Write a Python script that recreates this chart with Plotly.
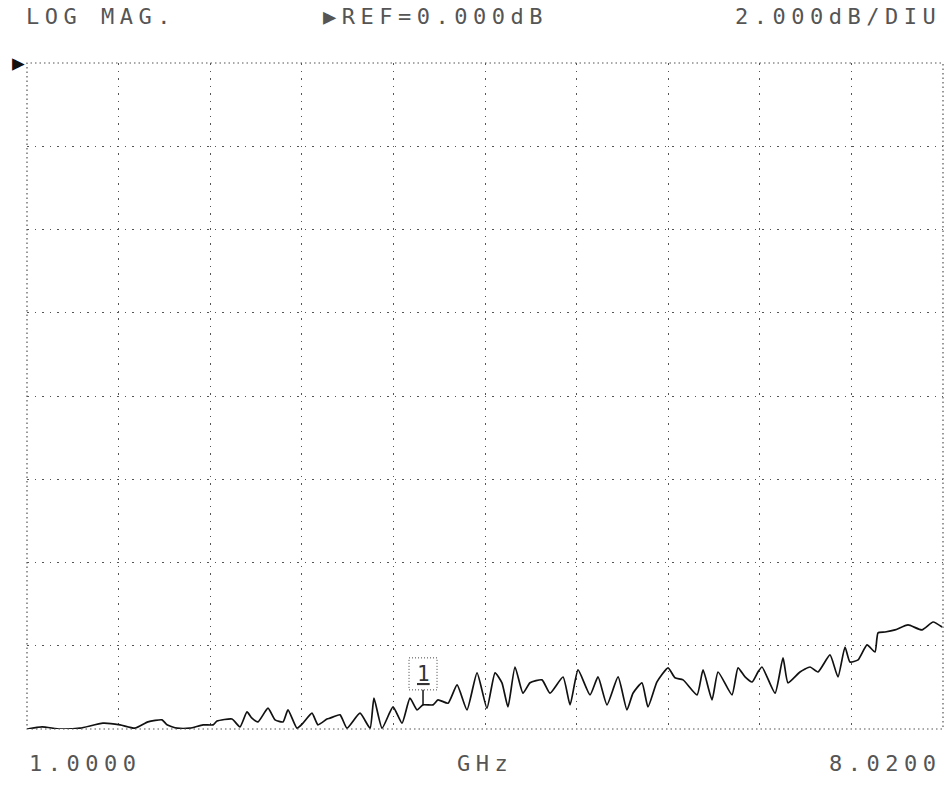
import numpy as np
import plotly.graph_objects as go

# Swept frequency (GHz) and measured magnitude (dB)
freq_ghz = [1.000, 1.115, 1.253, 1.406, 1.582, 1.713, 1.828, 1.927, 2.035, 2.073,
            2.150, 2.249, 2.349, 2.426, 2.456, 2.571, 2.632, 2.686, 2.724, 2.770,
            2.847, 2.901, 2.962, 3.000, 3.069, 3.115, 3.184, 3.230, 3.299, 3.322,
            3.399, 3.452, 3.552, 3.629, 3.659, 3.721, 3.805, 3.874, 3.935, 3.989,
            4.035, 4.112, 4.150, 4.227, 4.296, 4.372, 4.449, 4.525, 4.587, 4.640,
            4.686, 4.740, 4.801, 4.855, 4.947, 5.008, 5.108, 5.162, 5.223, 5.315,
            5.376, 5.445, 5.530, 5.598, 5.644, 5.713, 5.759, 5.828, 5.913, 5.966,
            6.028, 6.135, 6.181, 6.250, 6.296, 6.403, 6.449, 6.503, 6.557, 6.602,
            6.633, 6.733, 6.794, 6.832, 6.924, 7.001, 7.062, 7.154, 7.215, 7.269,
            7.307, 7.369, 7.438, 7.499, 7.522, 7.576, 7.652, 7.752, 7.859, 7.944,
            8.013]
mag_db = [-16.00, -15.95, -16.00, -15.98, -15.86, -15.90, -15.98, -15.83, -15.78, -15.90,
          -15.98, -15.98, -15.90, -15.90, -15.81, -15.76, -15.95, -15.59, -15.74, -15.83,
          -15.50, -15.78, -15.83, -15.54, -15.98, -15.86, -15.62, -15.90, -15.76, -15.74,
          -15.66, -15.98, -15.62, -15.98, -15.26, -15.98, -15.47, -15.86, -15.26, -15.54,
          -15.42, -15.42, -15.30, -15.38, -14.94, -15.54, -14.65, -15.50, -14.65, -14.89,
          -15.47, -14.51, -15.14, -14.89, -14.82, -15.14, -14.75, -15.42, -14.58, -15.18,
          -14.75, -15.42, -14.75, -15.54, -15.14, -14.89, -15.47, -14.87, -14.53, -14.77,
          -14.82, -15.18, -14.58, -15.30, -14.63, -15.18, -14.53, -14.75, -14.87, -14.63,
          -14.51, -15.14, -14.29, -14.89, -14.63, -14.51, -14.63, -14.22, -14.75, -14.03,
          -14.39, -14.34, -13.98, -14.15, -13.69, -13.67, -13.62, -13.50, -13.62, -13.43,
          -13.55]

start_ghz = 1.0
stop_ghz = 8.02
ref_db = 0.0
scale_db = 2.0
n_xdiv = 10
n_ydiv = 8
marker_ghz = 4.035

header_left = "LOG MAG."
header_mid = "\u25b6REF=0.000dB"
header_right = "2.000dB/DIU"
label_start = "1.0000"
label_unit = "GHz"
label_stop = "8.0200"

ymin = ref_db - scale_db * n_ydiv
marker_db = float(np.interp(marker_ghz, freq_ghz, mag_db))

GRID = "#555555"
TXT = "#555555"
FONT = "DejaVu Sans Mono"

def spaced(s, ls=5.5):
    return f'<span style="letter-spacing:{ls}px">{s}</span>'

fig = go.Figure()
fig.add_trace(go.Scatter(x=freq_ghz, y=mag_db, mode="lines",
                         line=dict(color="#111111", width=1.7, shape="spline", smoothing=0.5),
                         hoverinfo="skip", showlegend=False))

fig.update_layout(
    width=948, height=786,
    margin=dict(l=27, r=5, t=63, b=57),
    paper_bgcolor="white", plot_bgcolor="white",
    xaxis=dict(range=[start_ghz, stop_ghz], tick0=start_ghz,
               dtick=(stop_ghz - start_ghz) / n_xdiv,
               showgrid=True, gridcolor=GRID, griddash="1.5px,6px", gridwidth=1.2,
               showticklabels=False, zeroline=False, showline=False, ticks=""),
    yaxis=dict(range=[ymin, ref_db], tick0=ymin, dtick=scale_db,
               showgrid=True, gridcolor=GRID, griddash="1.5px,6px", gridwidth=1.2,
               showticklabels=False, zeroline=False, showline=False, ticks=""),
    font=dict(family=FONT, color=TXT),
)

# dotted frame
fig.add_shape(type="rect", xref="paper", yref="paper", x0=0, x1=1, y0=0, y1=1,
              line=dict(color=GRID, width=1.2, dash="1.5px,3px"))

# marker box and stem
fig.add_shape(type="rect", xref="x", yref="y", xsizemode="pixel", ysizemode="pixel",
              xanchor=marker_ghz, yanchor=marker_db, x0=-14, x1=14, y0=15, y1=47,
              line=dict(color="#444444", width=1, dash="1px,2px"))
fig.add_shape(type="line", xref="x", yref="y", xsizemode="pixel", ysizemode="pixel",
              xanchor=marker_ghz, yanchor=marker_db, x0=0, x1=0, y0=0, y1=15,
              line=dict(color="#111111", width=1.5))
fig.add_annotation(x=marker_ghz, y=marker_db, xref="x", yref="y", text="<u>1</u>",
                   showarrow=False, yshift=31, font=dict(size=21, color="#333333"))

# headers
fig.add_annotation(x=-0.003, y=1.07, xref="paper", yref="paper", xanchor="left",
                   yanchor="middle", text=spaced(header_left), showarrow=False,
                   font=dict(size=22, color=TXT))
fig.add_annotation(x=0.321, y=1.07, xref="paper", yref="paper", xanchor="left",
                   yanchor="middle", text=spaced(header_mid), showarrow=False,
                   font=dict(size=22, color=TXT))
fig.add_annotation(x=1.0, y=1.07, xref="paper", yref="paper", xanchor="right",
                   yanchor="middle", text=spaced(header_right), showarrow=False,
                   font=dict(size=22, color=TXT))
# reference arrow
fig.add_annotation(x=0, y=1.0, xref="paper", yref="paper", xanchor="right",
                   yanchor="middle", text="\u25b6", showarrow=False,
                   font=dict(size=21, color="#111111"))

# bottom labels
fig.add_annotation(x=0.0, y=-0.052, xref="paper", yref="paper", xanchor="left",
                   yanchor="middle", text=spaced(label_start), showarrow=False,
                   font=dict(size=22, color=TXT))
fig.add_annotation(x=0.5, y=-0.052, xref="paper", yref="paper", xanchor="center",
                   yanchor="middle", text=spaced(label_unit), showarrow=False,
                   font=dict(size=22, color=TXT))
fig.add_annotation(x=1.0, y=-0.052, xref="paper", yref="paper", xanchor="right",
                   yanchor="middle", text=spaced(label_stop), showarrow=False,
                   font=dict(size=22, color=TXT))

fig.write_html("out.html")
